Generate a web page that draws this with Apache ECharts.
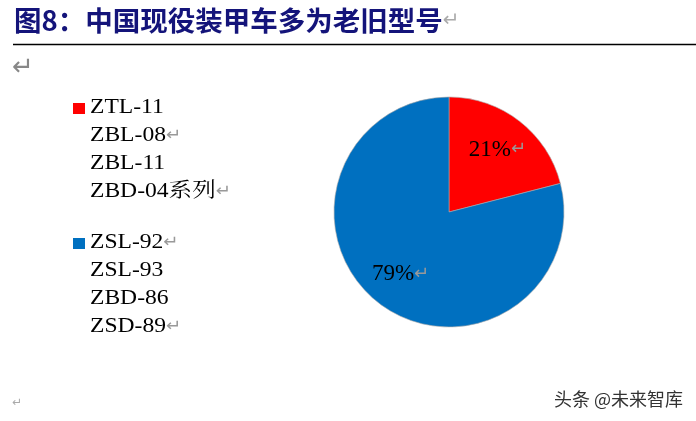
<!DOCTYPE html>
<html><head><meta charset="utf-8">
<script src="https://cdn.jsdelivr.net/npm/echarts@6/dist/echarts.min.js"></script>
<style>html,body{margin:0;padding:0;background:#fff}#c{width:696px;height:421px}</style>
</head><body><div id="c"></div>
<script>
var titleText = '图8：中国现役装甲车多为老旧型号';
var groupNames = ['老旧型号', '其他型号'];
var groupValues = [21, 79];
var groupColors = ['#FF0000', '#0070C0'];
var redModels = ['ZTL-11', 'ZBL-08↵', 'ZBL-11', 'ZBD-04系列↵'];
var blueModels = ['ZSL-92↵', 'ZSL-93', 'ZBD-86', 'ZSD-89↵'];
var watermark = '头条 @未来智库';

var chart = echarts.init(document.getElementById('c'));
function lineRich(s){
  if (s.slice(-1) === '↵') return '{t|' + s.slice(0,-1) + '}{r|↵}';
  return '{t|' + s + '}';
}
var richStyle = {
  t: {fontFamily: '"Liberation Serif","Noto Serif CJK SC","Noto Sans CJK SC",serif', fontSize: 20.5, fill: '#000', fontWeight: 'normal'},
  r: {fontFamily: '"DejaVu Sans",sans-serif', fontSize: 16, fill: '#999'}
};
var graphics = [
  {type: 'text', left: 14, top: 7, style: {
    rich: {
      a: {fontFamily: '"Noto Sans CJK SC",sans-serif', fontSize: 27.5, fontWeight: 'bold', fill: '#14147a'},
      r: {fontFamily: '"DejaVu Sans",sans-serif', fontSize: 20, fill: '#aaa'}
    },
    text: '{a|' + titleText + '}{r|↵}'
  }},
  {type: 'line', shape: {x1: 13, y1: 44.5, x2: 696, y2: 44.5}, style: {stroke: '#000', lineWidth: 1.5}},
  {type: 'text', left: 12, top: 55, style: {text: '↵', fontFamily: '"DejaVu Sans",sans-serif', fontSize: 26, fill: '#888'}},
  {type: 'text', left: 12, top: 397, style: {text: '↵', fontFamily: '"DejaVu Sans",sans-serif', fontSize: 12, fill: '#aaa'}},
  {type: 'text', left: 554, top: 390, style: {text: watermark, fontFamily: '"Noto Sans CJK SC",sans-serif', fontSize: 18, fill: '#333'}}
];
function addGroup(models, color, top){
  graphics.push({type: 'rect', shape: {x: 73, y: top - 5, width: 12, height: 11}, style: {fill: color}});
  models.forEach(function(m, i){
    graphics.push({type: 'text', x: 90, y: top + i * 28, scaleX: 1.15, style: {text: lineRich(m), rich: richStyle, verticalAlign: 'middle'}});
  });
}
addGroup(redModels, groupColors[0], 108);
addGroup(blueModels, groupColors[1], 243);

var data = groupNames.map(function(n, i){ return {name: n, value: groupValues[i], itemStyle: {color: groupColors[i]}}; });
chart.setOption({
  animation: false,
  graphic: graphics,
  series: [
    {type: 'pie', center: [449, 212], radius: [0, 115], startAngle: 90, clockwise: true,
     label: {show: false}, labelLine: {show: false}, silent: true,
     itemStyle: {borderColor: '#aaa', borderWidth: 0.6},
     data: data},
    {type: 'pie', center: [449, 212], radius: [38, 114], startAngle: 90, clockwise: true, silent: true,
     itemStyle: {color: 'rgba(0,0,0,0)', borderWidth: 0},
     label: {show: true, position: 'inside', formatter: '{v|{d}%}{r|↵}',
       rich: {
         v: {fontFamily: '"Liberation Serif",serif', fontSize: 23, color: '#000'},
         r: {fontFamily: '"DejaVu Sans",sans-serif', fontSize: 18, color: '#999'}
       }},
     labelLine: {show: false},
     data: groupNames.map(function(n, i){ return {name: n, value: groupValues[i]}; })}
  ]
});
</script></body></html>
